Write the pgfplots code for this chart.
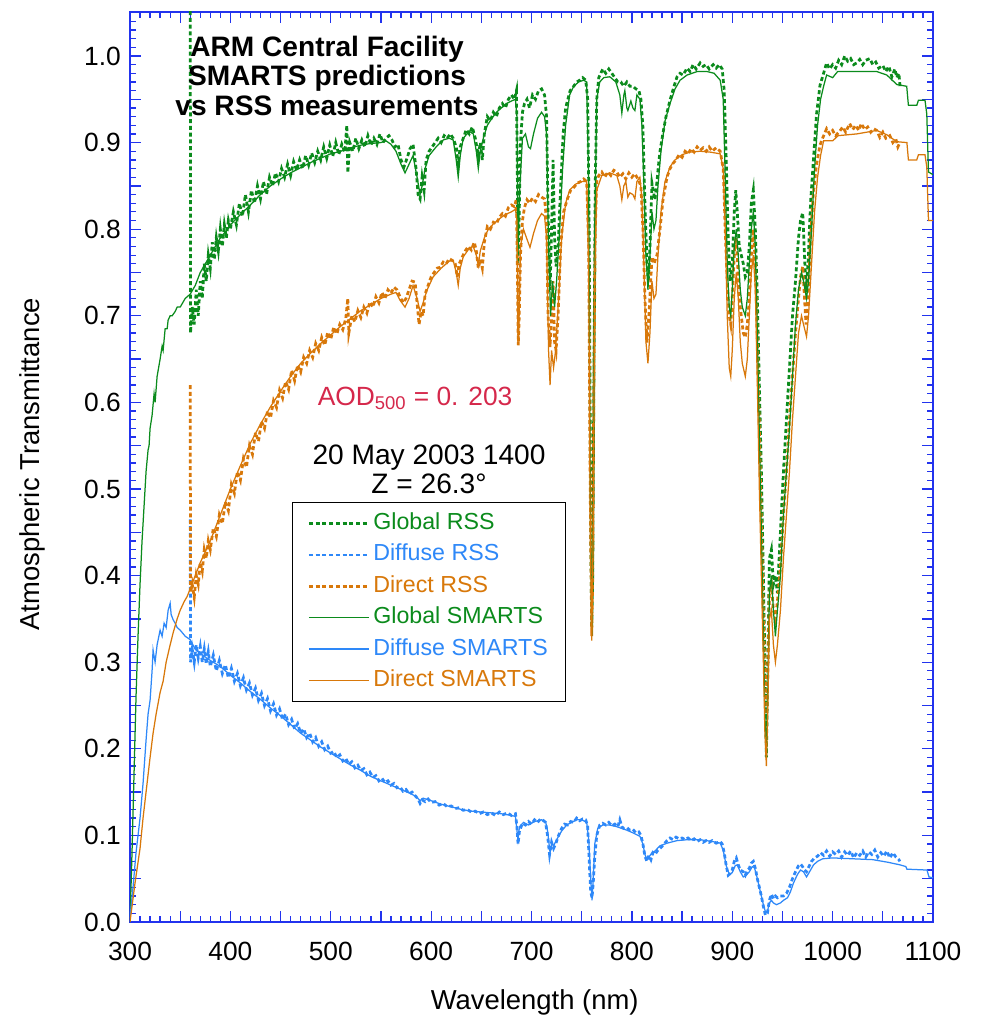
\documentclass[border=0pt]{standalone}
\usepackage{fontspec}
\setmainfont{Liberation Sans}
\usepackage{xcolor}
\usepackage{pgfplots}
\usepackage{pgfplotstable}
\pgfplotsset{compat=1.18}
\definecolor{cGreen}{HTML}{0B8B1C}
\definecolor{cBlue}{HTML}{2E88F8}
\definecolor{cOrange}{HTML}{D8780A}
\definecolor{cRed}{HTML}{D5284B}
\definecolor{axBlue}{HTML}{2233EE}

% RSS measurements
\pgfplotstableread{
x y
360 1.2
360.3 0.68
362 0.71
364 0.69
366 0.73
368 0.70
370 0.74
372 0.72
374 0.76
376 0.74
378 0.77
380 0.755
382 0.785
384 0.765
386 0.79
388 0.775
390 0.80
392 0.78
394 0.805
396 0.79
398 0.81
400 0.80
403 0.82
406 0.805
409 0.83
412 0.815
415 0.84
418 0.82
421 0.845
424 0.83
427 0.85
430 0.835
433 0.855
436 0.84
439 0.86
442 0.85
445 0.865
448 0.855
451 0.87
454 0.86
457 0.875
460 0.862
463 0.878
466 0.868
469 0.88
472 0.87
475 0.885
478 0.874
481 0.888
484 0.877
487 0.89
490 0.88
493 0.895
496 0.882
499 0.897
502 0.884
505 0.90
508 0.886
511 0.898
514 0.889
516 0.92
517 0.865
519 0.90
522 0.89
525 0.905
528 0.893
531 0.903
534 0.895
537 0.908
540 0.897
543 0.905
546 0.898
549 0.91
552 0.90
555 0.905
558 0.908
561 0.903
564 0.895
567 0.898
570 0.88
573 0.872
576 0.882
579 0.893
582 0.898
585 0.87
587 0.84
589 0.835
591 0.86
593 0.845
595 0.88
598 0.89
601 0.895
604 0.90
607 0.905
610 0.90
613 0.908
616 0.905
619 0.91
622 0.905
625 0.895
627 0.875
629 0.895
632 0.905
635 0.915
638 0.91
641 0.918
644 0.905
647 0.885
649 0.90
651 0.88
653 0.91
656 0.93
659 0.925
662 0.935
665 0.93
668 0.94
671 0.945
674 0.94
677 0.95
680 0.955
683 0.95
685 0.96
686 0.85
686.5 0.76
687.5 0.80
689 0.90
691 0.935
693 0.945
695.5 0.95
698 0.94
701 0.955
704 0.95
707 0.96
710 0.962
713 0.955
715 0.93
716.5 0.82
718.5 0.73
720 0.80
721.5 0.88
723 0.79
724.5 0.757
726.5 0.78
728.5 0.834
731.5 0.91
734 0.94
738.5 0.96
742 0.965
745 0.97
748 0.972
751 0.975
754 0.972
756 0.95
757.5 0.80
759 0.45
760 0.34
761 0.40
762 0.60
763.5 0.85
765 0.95
767 0.975
769 0.98
771 0.985
774 0.98
777 0.985
780 0.98
783 0.975
786 0.97
789 0.97
792 0.965
795 0.97
798 0.965
801 0.965
804 0.962
807 0.96
809 0.95
811 0.918
813 0.83
815 0.764
816.5 0.741
818 0.78
820 0.853
822 0.84
823 0.834
825 0.855
826 0.868
828 0.89
831 0.911
834 0.93
838 0.949
842 0.965
845 0.976
848 0.98
851 0.978
855 0.986
858 0.982
861 0.99
864 0.985
868 0.992
871 0.988
874 0.99
877 0.985
881 0.99
884 0.986
887 0.99
890 0.985
892 0.96
894 0.88
896 0.79
898 0.74
900 0.76
902 0.82
903.5 0.845
905 0.82
907 0.78
909 0.77
911 0.76
913 0.745
915 0.75
917 0.78
919 0.83
921 0.845
923 0.80
925 0.72
927 0.62
929 0.52
931 0.40
932.5 0.30
934 0.19
935.5 0.30
937 0.42
939 0.43
941 0.39
943 0.40
945 0.38
948 0.45
951 0.52
954 0.58
957 0.64
960 0.70
963 0.74
966 0.79
968 0.81
970.2 0.819
972 0.77
973.5 0.727
975.5 0.76
978 0.83
980.7 0.877
984 0.933
987.4 0.966
991 0.98
994 0.992
997 0.985
1000 0.99
1003 0.986
1006 0.995
1009 0.99
1012 1.0
1015 0.994
1018 0.997
1021 0.99
1024 0.992
1027 0.996
1030 0.99
1033 0.995
1037 0.997
1040 0.99
1043 0.993
1046 0.986
1050 0.989
1053 0.982
1056 0.988
1059 0.976
1062 0.985
1064 0.975
1066 0.98
1067.2 0.965
}\globalRSS

\pgfplotstableread{
x y
360 0.465
360.3 0.30
362 0.315
364 0.30
366 0.32
368 0.305
370 0.318
372 0.30
374 0.315
376 0.298
378 0.312
380 0.295
383 0.308
386 0.29
389 0.302
392 0.287
395 0.297
398 0.282
401 0.293
404 0.278
407 0.287
410 0.273
413 0.282
416 0.268
419 0.276
422 0.262
425 0.27
428 0.256
431 0.264
434 0.25
437 0.258
440 0.244
443 0.252
446 0.239
449 0.246
452 0.234
455 0.24
458 0.228
461 0.234
464 0.223
467 0.229
470 0.218
473 0.223
476 0.213
479 0.218
482 0.208
485 0.213
488 0.203
491 0.208
494 0.199
497 0.203
500 0.195
503 0.197
506 0.19
509 0.193
512 0.186
515 0.189
518 0.182
521 0.185
524 0.178
527 0.181
530 0.175
533 0.177
536 0.17
539 0.173
542 0.167
545 0.169
548 0.163
551 0.166
554 0.161
557 0.163
560 0.158
563 0.16
566 0.155
569 0.156
572 0.151
575 0.153
578 0.148
581 0.15
584 0.146
587 0.142
589 0.137
591 0.141
594 0.139
597 0.142
600 0.138
604 0.139
608 0.135
612 0.137
616 0.133
620 0.134
624 0.131
628 0.132
632 0.129
636 0.13
640 0.127
644 0.128
648 0.125
652 0.127
656 0.124
660 0.126
664 0.123
668 0.127
672 0.124
676 0.126
680 0.123
684 0.125
685.5 0.11
686.6 0.09
688 0.105
691 0.114
694 0.112
697 0.116
700 0.113
703 0.118
706 0.115
709 0.119
712 0.117
714 0.115
716 0.10
718 0.078
720 0.092
722 0.085
724 0.09
727 0.10
730 0.108
733 0.113
736 0.112
739 0.116
742 0.115
745 0.12
748 0.117
751 0.119
754 0.118
756 0.11
757.5 0.07
759 0.035
760.3 0.028
761.5 0.045
763 0.075
765 0.10
768 0.112
771 0.114
774 0.112
777 0.115
780 0.111
783 0.113
786 0.11
788 0.118
790 0.11
792 0.108
795 0.109
798 0.106
801 0.107
804 0.103
807 0.104
809 0.10
811 0.09
813 0.076
815 0.07
817 0.077
819 0.072
821 0.08
823 0.078
826 0.083
829 0.086
832 0.09
835 0.094
838 0.097
841 0.095
844 0.098
847 0.096
850 0.097
853 0.095
856 0.097
859 0.094
862 0.096
865 0.093
868 0.095
871 0.092
874 0.094
877 0.092
880 0.094
884 0.091
888 0.093
890 0.09
892 0.08
894 0.065
896 0.054
898 0.056
900 0.06
902 0.07
904 0.074
906 0.066
908 0.06
911 0.058
913 0.054
915 0.06
917 0.062
919 0.068
921 0.07
923 0.062
925 0.05
927 0.04
929 0.03
931 0.018
933 0.008
935 0.01
937 0.025
939 0.032
941 0.027
943 0.03
945 0.028
948 0.03
951 0.03
954 0.033
957 0.04
960 0.05
963 0.058
966 0.065
968 0.067
970 0.064
972 0.06
974 0.058
976 0.063
979 0.07
982 0.074
985 0.076
988 0.08
991 0.077
994 0.082
997 0.076
1000 0.081
1003 0.078
1006 0.082
1009 0.075
1012 0.081
1015 0.077
1018 0.082
1021 0.074
1024 0.08
1027 0.077
1030 0.082
1033 0.075
1036 0.081
1039 0.078
1042 0.083
1045 0.075
1048 0.08
1051 0.076
1054 0.082
1057 0.074
1060 0.08
1063 0.075
1066 0.072
1067 0.07
}\diffuseRSS

\pgfplotstableread{
x y
360 0.62
360.3 0.38
362 0.39
364 0.375
366 0.40
368 0.39
370 0.415
372 0.405
374 0.43
376 0.42
378 0.44
380 0.43
383 0.455
386 0.445
389 0.47
392 0.46
395 0.485
398 0.475
401 0.505
404 0.495
407 0.52
410 0.51
413 0.535
416 0.525
419 0.55
422 0.54
425 0.565
428 0.555
431 0.578
434 0.57
437 0.59
440 0.582
443 0.602
446 0.594
449 0.614
452 0.605
455 0.624
458 0.615
461 0.637
464 0.625
467 0.643
470 0.635
473 0.652
476 0.645
479 0.66
482 0.652
485 0.668
488 0.66
491 0.675
494 0.666
497 0.681
500 0.673
503 0.687
506 0.679
509 0.69
512 0.684
515 0.697
517 0.72
518 0.68
521 0.70
524 0.693
527 0.706
530 0.698
533 0.71
536 0.703
539 0.716
542 0.71
545 0.722
548 0.715
551 0.727
554 0.72
557 0.73
560 0.726
563 0.733
566 0.73
569 0.722
572 0.715
575 0.72
578 0.73
581 0.74
584 0.739
586 0.715
588 0.69
590 0.705
592 0.70
594 0.725
597 0.735
600 0.745
603 0.75
606 0.755
609 0.756
612 0.762
615 0.76
618 0.766
621 0.764
624 0.76
626 0.745
628 0.76
631 0.768
634 0.775
637 0.78
640 0.776
643 0.785
645 0.775
647 0.755
649 0.765
651 0.755
653 0.785
656 0.803
659 0.80
662 0.808
665 0.806
668 0.814
671 0.818
674 0.815
677 0.825
680 0.828
683 0.826
685 0.835
686 0.75
686.8 0.666
687.8 0.70
689 0.77
691 0.81
693 0.825
695.5 0.834
698 0.83
701 0.836
704 0.832
707 0.84
710 0.837
713 0.835
715 0.81
716.5 0.70
718.5 0.664
720 0.70
721.5 0.74
723 0.67
724.5 0.66
726.5 0.70
729 0.78
732 0.82
735.5 0.834
739 0.845
742 0.848
745.5 0.853
749 0.855
752 0.858
755 0.855
757 0.78
758.5 0.50
760 0.33
761 0.40
762 0.60
763.5 0.80
765 0.855
767 0.862
770 0.866
773 0.86
776 0.866
779 0.862
782 0.868
785 0.866
788 0.86
791 0.864
794 0.858
797 0.865
800 0.86
803 0.864
806 0.858
809 0.85
811 0.80
813 0.72
815 0.669
817 0.70
820 0.768
822 0.76
825 0.77
828 0.80
831 0.834
835 0.86
838 0.87
841 0.876
844 0.88
847 0.886
850 0.883
853 0.89
856 0.887
859 0.893
862 0.889
865 0.895
868 0.891
871 0.894
874 0.89
877 0.895
880 0.89
884 0.894
888 0.89
891 0.87
893 0.80
895 0.74
897 0.70
898.5 0.69
900 0.72
902 0.77
903.5 0.79
905 0.77
907 0.72
909 0.70
911 0.68
913 0.675
915 0.69
917 0.72
919 0.77
921 0.80
923 0.76
925 0.67
927 0.57
929 0.46
931 0.35
932.5 0.28
934 0.24
935.5 0.30
937 0.38
939 0.39
941 0.36
943 0.35
945 0.37
948 0.41
951 0.47
954 0.52
957 0.58
960 0.63
963 0.68
966 0.72
968 0.745
970.2 0.757
972 0.72
973.5 0.69
975.5 0.72
978 0.79
980.7 0.84
984 0.875
987.4 0.897
990 0.905
994 0.916
997 0.91
1000 0.914
1003 0.908
1007 0.913
1010 0.918
1013 0.912
1017 0.922
1020 0.915
1023 0.92
1026 0.914
1028.6 0.922
1032 0.915
1035 0.918
1038 0.912
1041 0.916
1044 0.914
1047 0.906
1050 0.912
1053 0.905
1057 0.908
1060 0.90
1063 0.904
1065 0.895
1067 0.90
}\directRSS

% SMARTS predictions
\pgfplotstableread{
x y
300 0.00
302 0.08
304 0.17
306 0.26
308 0.33
310 0.39
312 0.44
314 0.48
316 0.52
318 0.545
319 0.55
320 0.57
322 0.585
324 0.61
325 0.60
327 0.63
330 0.65
332 0.665
333 0.66
335 0.685
337 0.685
338 0.695
340 0.70
342 0.70
345 0.705
347 0.71
350 0.71
355 0.72
360 0.725
365 0.735
370 0.75
375 0.76
380 0.77
385 0.78
390 0.79
395 0.797
400 0.805
410 0.817
420 0.828
430 0.84
440 0.85
450 0.858
460 0.865
470 0.871
480 0.877
490 0.882
500 0.887
510 0.89
520 0.894
530 0.897
540 0.899
550 0.90
555 0.902
560 0.898
565 0.89
570 0.875
574 0.865
578 0.875
582 0.885
586 0.86
589 0.84
591 0.85
594 0.87
598 0.885
605 0.895
612 0.903
618 0.905
622 0.903
625 0.88
627 0.86
629 0.885
632 0.905
638 0.913
642 0.91
645 0.89
647 0.87
649 0.89
652 0.905
656 0.92
660 0.927
665 0.935
670 0.94
675 0.945
680 0.948
684 0.95
685.5 0.93
686.5 0.77
688 0.84
691 0.905
694 0.91
697 0.895
699 0.893
702 0.91
706 0.928
710 0.935
713 0.93
715 0.91
717 0.78
719 0.70
721 0.74
723 0.71
725 0.74
728 0.80
731 0.87
734 0.92
738 0.955
742 0.965
747 0.97
752 0.972
755 0.97
757 0.85
758.5 0.50
760 0.33
761.5 0.45
763 0.80
765 0.95
768 0.97
772 0.975
778 0.976
784 0.97
788 0.955
790 0.934
792 0.955
793 0.96
795 0.94
796 0.937
799 0.948
801 0.94
803 0.937
805 0.955
808 0.95
810 0.92
812 0.85
814 0.77
816 0.73
818 0.77
820 0.82
822 0.80
824 0.81
826 0.85
829 0.89
833 0.925
838 0.945
843 0.962
848 0.972
855 0.978
865 0.982
875 0.982
882 0.98
888 0.972
891 0.95
893 0.86
895 0.76
897 0.71
898.5 0.70
900 0.73
902 0.78
904 0.80
906 0.77
908 0.73
910 0.71
913 0.70
915 0.72
917 0.76
919 0.80
921 0.82
923 0.78
925 0.68
927 0.56
929 0.45
931 0.33
932.5 0.24
933.8 0.19
935.5 0.27
937 0.38
939 0.40
941 0.36
943 0.33
945 0.36
948 0.40
951 0.47
954 0.52
957 0.57
960 0.63
963 0.69
966 0.73
969 0.75
971 0.74
974 0.72
976 0.74
979 0.80
982 0.87
985 0.92
988 0.95
991 0.965
994 0.978
1000 0.975
1005 0.982
1024 0.982
1044 0.982
1054 0.978
1064 0.967
1073.8 0.965
1075.5 0.943
1083.8 0.943
1085.5 0.949
1092 0.949
1093.8 0.933
1095.5 0.866
1100 0.863
}\globalSM

\pgfplotstableread{
x y
300 0.005
303 0.04
306 0.08
310 0.12
313 0.16
316 0.21
318 0.24
320 0.256
322 0.29
323 0.314
325 0.30
327 0.32
330 0.337
332 0.33
334 0.345
336 0.34
338 0.36
340 0.368
341 0.355
343 0.349
345 0.345
347 0.34
350 0.337
355 0.33
360 0.326
365 0.315
370 0.31
380 0.302
390 0.295
400 0.285
410 0.276
420 0.266
430 0.257
440 0.247
450 0.238
460 0.228
470 0.218
480 0.21
490 0.202
500 0.195
510 0.188
520 0.181
530 0.175
540 0.168
550 0.163
560 0.158
570 0.153
580 0.148
585 0.145
589 0.14
592 0.143
600 0.14
610 0.136
620 0.133
630 0.13
640 0.128
650 0.127
660 0.126
670 0.125
680 0.123
684 0.122
686.5 0.095
688 0.11
692 0.115
697 0.112
703 0.116
710 0.118
714 0.116
716 0.105
718.5 0.08
720 0.09
722 0.088
725 0.095
730 0.105
735 0.112
740 0.115
745 0.118
750 0.118
755 0.115
757 0.095
759 0.05
760.3 0.025
761.5 0.05
763 0.09
766 0.108
771 0.112
778 0.112
785 0.11
795 0.106
801 0.103
808 0.099
811 0.09
813 0.078
815 0.072
817 0.075
820 0.08
823 0.082
828 0.088
835 0.091
845 0.094
855 0.095
868 0.095
880 0.093
888 0.091
891 0.083
894 0.065
897 0.055
900 0.057
903 0.065
905 0.066
908 0.058
911 0.052
914 0.054
917 0.058
920 0.064
922 0.063
924 0.055
926 0.045
929 0.03
931 0.02
933 0.012
935 0.012
937 0.022
939 0.025
941 0.022
944 0.02
948 0.022
951 0.025
955 0.028
958 0.035
961 0.045
965 0.055
968 0.06
971 0.058
974 0.052
977 0.058
981 0.066
985 0.07
990 0.073
1000 0.074
1020 0.073
1040 0.072
1055 0.069
1067 0.066
1073 0.064
1074 0.061
1094 0.06
1096 0.052
1100 0.051
}\diffuseSM

\pgfplotstableread{
x y
300 0.00
305 0.045
310 0.085
313 0.12
317 0.16
320 0.19
323 0.218
326 0.24
330 0.265
333 0.278
336 0.30
340 0.32
343 0.334
347 0.35
350 0.36
354 0.37
357 0.376
360 0.385
365 0.40
370 0.415
380 0.44
390 0.47
400 0.50
410 0.527
420 0.553
430 0.575
440 0.595
450 0.613
460 0.63
470 0.645
480 0.657
490 0.668
500 0.678
510 0.688
520 0.697
530 0.706
540 0.713
550 0.72
560 0.725
565 0.727
569 0.718
574 0.71
578 0.72
582 0.735
586 0.72
589 0.705
592 0.715
596 0.73
602 0.745
610 0.755
618 0.763
622 0.764
625 0.75
627 0.735
629 0.755
632 0.768
638 0.778
642 0.78
645 0.77
647 0.758
649 0.775
653 0.79
657 0.80
662 0.806
668 0.812
674 0.817
680 0.82
684 0.823
685.5 0.81
686.5 0.67
687.5 0.69
689 0.78
692 0.80
695 0.79
698.5 0.779
702 0.795
706 0.81
710 0.818
713 0.815
715 0.79
717 0.66
718.5 0.62
720 0.66
722 0.64
724 0.66
727 0.72
730 0.79
734 0.83
738 0.845
744 0.852
750 0.855
755 0.855
757 0.75
758.5 0.45
760 0.325
761.5 0.45
763 0.75
765 0.845
770 0.862
778 0.865
785 0.862
788 0.85
790 0.834
792 0.85
794 0.855
796 0.837
798 0.842
801 0.84
803 0.835
805 0.855
808 0.86
810 0.835
812 0.76
814 0.67
816 0.645
818 0.68
820 0.74
822 0.72
824 0.725
826 0.77
829 0.82
833 0.855
838 0.872
843 0.88
850 0.886
858 0.889
868 0.89
878 0.889
888 0.887
891 0.87
893 0.80
895 0.70
897 0.64
898.5 0.63
900 0.66
902 0.72
904 0.75
906 0.72
908 0.67
910 0.645
913 0.63
915 0.65
917 0.70
919 0.75
921 0.77
923 0.73
925 0.62
927 0.50
929 0.40
931 0.30
932.5 0.22
934 0.18
935.5 0.25
937 0.35
939 0.36
941 0.32
943 0.30
945 0.32
948 0.36
951 0.42
954 0.47
957 0.52
960 0.58
963 0.63
966 0.68
969 0.70
971 0.69
974 0.676
976 0.70
979 0.76
982 0.82
985 0.86
988 0.885
991 0.902
1000 0.902
1005.6 0.908
1024 0.91
1044 0.914
1054 0.909
1064 0.901
1074 0.90
1075.5 0.88
1083.8 0.88
1085.5 0.886
1092 0.886
1093.8 0.872
1095.5 0.81
1100 0.81
}\directSM

\begin{document}
\begin{tikzpicture}
\begin{axis}[
    name=ax,
    scale only axis,
    width=160.6mm, height=182mm,
    xmin=300, xmax=1100, ymin=0, ymax=1.0508,
    axis line style={draw=axBlue, line width=0.3mm},
    every tick/.style={draw=axBlue, line width=0.25mm},
    major tick length=2.2mm, minor tick length=1.2mm,
    tick align=inside,
    xtick={300,350,...,1100},
    xticklabels={300,,400,,500,,600,,700,,800,,900,,1000,,1100},
    minor xtick={300,310,...,1100},
    ytick={0,0.05,0.1,0.15,0.2,0.25,0.3,0.35,0.4,0.45,0.5,0.55,0.6,0.65,0.7,0.75,0.8,0.85,0.9,0.95,1.0},
    yticklabels={0.0,,0.1,,0.2,,0.3,,0.4,,0.5,,0.6,,0.7,,0.8,,0.9,,1.0},
    minor ytick={0,0.01,...,1.05},
    ticklabel style={font=\fontsize{15}{18}\selectfont},
    xticklabel style={yshift=-2.8mm},
    yticklabel style={xshift=-0.6mm},
    xlabel={Wavelength (nm)},
    ylabel={Atmospheric Transmittance},
    label style={font=\fontsize{15.6}{18}\selectfont},
    xlabel style={at={(axis description cs:0.504,-0.088)}, anchor=center},
    ylabel style={at={(axis description cs:-0.122,0.503)}, anchor=center},
    legend cell align=left,
    legend image code/.code={\draw[#1] (0mm,0mm) -- (12mm,0mm);},
    legend style={at={(axis description cs:0.2017,0.4615)}, anchor=north west,
        draw=black, line width=0.25mm, fill=white,
        font=\fontsize{13.2}{14}\selectfont,
        inner xsep=3mm, inner ysep=1.4mm,
        nodes={inner sep=0.6mm, text height=9.6pt, text depth=2.8pt},
        row sep=0.72mm},
    rss/.style={line width=0.55mm, dash pattern=on 0.8mm off 0.55mm},
    smarts/.style={line width=0.25mm},
]
\addplot[rss, cGreen] table {\globalRSS};
\addlegendentry{\textcolor{cGreen}{Global RSS}}
\addplot[rss, cBlue] table {\diffuseRSS};
\addlegendentry{\textcolor{cBlue}{Diffuse RSS}}
\addplot[rss, cOrange] table {\directRSS};
\addlegendentry{\textcolor{cOrange}{Direct RSS}}
\addplot[smarts, cGreen] table {\globalSM};
\addlegendentry{\textcolor{cGreen}{Global SMARTS}}
\addplot[smarts, cBlue] table {\diffuseSM};
\addlegendentry{\textcolor{cBlue}{Diffuse SMARTS}}
\addplot[smarts, cOrange] table {\directSM};
\addlegendentry{\textcolor{cOrange}{Direct SMARTS}}

\node[font=\bfseries\fontsize{16}{17}\selectfont, align=center] at (axis cs:496.3,0.977)
    {ARM Central Facility\\SMARTS predictions\\vs RSS measurements};
\node[font=\fontsize{15}{18}\selectfont, text=cRed] at (axis cs:584,0.605)
    {AOD\textsubscript{500} = 0. 203};
\node[font=\fontsize{16}{16.5}\selectfont, align=center] at (axis cs:597.9,0.523)
    {20 May 2003 1400\\Z = 26.3°};
\end{axis}
\path ([xshift=-26mm,yshift=-19.8mm]ax.south west) rectangle ([xshift=10.2mm,yshift=2.4mm]ax.north east);
\end{tikzpicture}
\end{document}
